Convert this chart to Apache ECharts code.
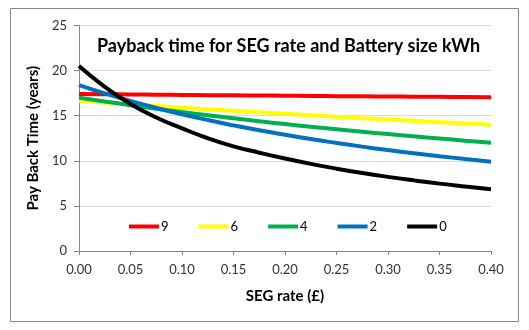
<!DOCTYPE html>
<html><head><meta charset="utf-8">
<script src="https://cdn.jsdelivr.net/npm/echarts@6/dist/echarts.min.js"></script>
<style>html,body{margin:0;padding:0;background:#fff}#c{width:529px;height:330px}</style>
</head><body><div id="c"></div>
<script>
const segRates = [0,0.025,0.05,0.075,0.10,0.125,0.15,0.175,0.20,0.225,0.25,0.275,0.30,0.325,0.35,0.375,0.40];
const seriesNames = ['9','6','4','2','0'];
const battery9 = [17.4,17.38,17.35,17.33,17.3,17.28,17.26,17.24,17.22,17.19,17.17,17.15,17.13,17.11,17.09,17.07,17.05];
const battery6 = [16.65,16.46,16.27,16.08,15.89,15.72,15.55,15.38,15.21,15.05,14.89,14.73,14.58,14.43,14.28,14.14,14.0];
const battery4 = [17.0,16.58,16.17,15.78,15.40,15.05,14.71,14.38,14.07,13.77,13.49,13.22,12.96,12.71,12.47,12.23,12.0];
const battery2 = [18.4,17.48,16.64,15.86,15.16,14.52,13.93,13.38,12.88,12.41,11.98,11.57,11.19,10.84,10.51,10.20,9.90];
const battery0 = [20.5,18.2,16.3,14.8,13.6,12.5,11.6,10.9,10.25,9.66,9.13,8.65,8.22,7.83,7.47,7.15,6.85];
const yTicks = [0,5,10,15,20,25];
const xTicks = [0,0.05,0.10,0.15,0.20,0.25,0.30,0.35,0.40];

const values = [battery9,battery6,battery4,battery2,battery0];
const colors = ['#FF0000','#FFFF00','#00B050','#0070C0','#000000'];
const FONT = 'Lato, "Open Sans", sans-serif';

const chart = echarts.init(document.getElementById('c'));
chart.setOption({
  animation:false,
  title:{text:'Payback time for SEG rate and Battery size kWh',left:97,top:37,padding:0,
    textStyle:{fontFamily:FONT,fontWeight:'bold',fontSize:18,color:'#000'}},
  legend:{data:seriesNames,left:129,top:220,padding:0,icon:'rect',itemWidth:30,itemHeight:4,itemGap:30,
    textStyle:{fontFamily:FONT,fontSize:13,color:'#000',padding:[0,0,0,-3]}},
  grid:{left:79,right:38,top:25.5,bottom:79,containLabel:false},
  graphic:[{type:'rect',shape:{x:10.5,y:8.5,width:508,height:313},style:{fill:'none',stroke:'#868686',lineWidth:1},silent:true}],
  xAxis:{type:'value',min:xTicks[0],max:xTicks[xTicks.length-1],interval:0.05,
    name:'SEG rate (£)',nameLocation:'middle',nameGap:38,
    nameTextStyle:{fontFamily:FONT,fontWeight:'bold',fontSize:15,color:'#000'},
    axisLine:{lineStyle:{color:'#868686'}},axisTick:{show:true,length:4,lineStyle:{color:'#868686'}},
    splitLine:{show:false},
    axisLabel:{fontFamily:FONT,fontSize:13,color:'#333',margin:12,formatter:v=>v.toFixed(2)}},
  yAxis:{type:'value',min:yTicks[0],max:yTicks[yTicks.length-1],interval:5,
    name:'Pay Back Time (years)',nameLocation:'middle',nameGap:33,
    nameTextStyle:{fontFamily:FONT,fontWeight:'bold',fontSize:15,color:'#000'},
    axisLine:{show:true,lineStyle:{color:'#868686'}},axisTick:{show:true,length:5,lineStyle:{color:'#868686'}},
    splitLine:{lineStyle:{color:'#D9D9D9'}},
    axisLabel:{fontFamily:FONT,fontSize:13,color:'#333',margin:12}},
  series:seriesNames.map((n,i)=>({name:n,type:'line',smooth:true,showSymbol:false,symbol:'none',
    lineStyle:{width:4,color:colors[i]},itemStyle:{color:colors[i]},
    data:segRates.map((x,j)=>[x,values[i][j]])}))
});
</script></body></html>
